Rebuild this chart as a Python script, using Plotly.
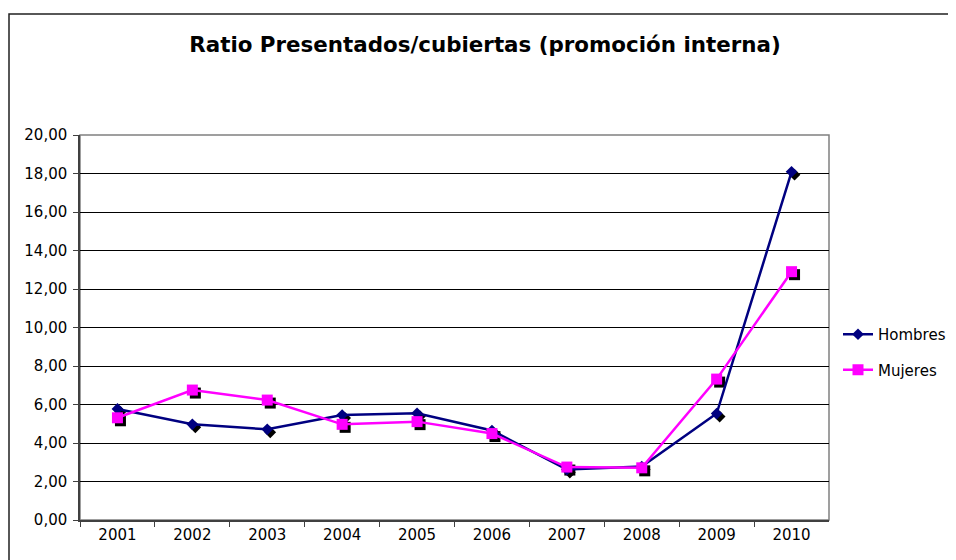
import plotly.graph_objects as go

ANIOS = ["2001", "2002", "2003", "2004", "2005", "2006", "2007", "2008", "2009", "2010"]
HOMBRES = [5.77, 4.97, 4.71, 5.45, 5.54, 4.65, 2.62, 2.78, 5.53, 18.09]
MUJERES = [5.31, 6.75, 6.23, 4.97, 5.11, 4.49, 2.75, 2.71, 7.32, 12.90]

AZUL = "#000080"
MAGENTA = "#FF00FF"
FUENTE = "DejaVu Sans"

# la página añade 8 px de margen al body: todo se mide con ese desfase
W, H = 956, 560
OFF = 8
PAD = 3  # holgura dentro del papel para poder desplazar la sombra
ML, MR, MT, MB = 80 - PAD - OFF, 127 - PAD + OFF, 135 - PAD - OFF, 40 - PAD + OFF
PW, PH = W - ML - MR, H - MT - MB
SOMBRA = 3  # desplazamiento de la sombra de los marcadores (px)

dom_x = [PAD / PW, 1 - PAD / PW]
dom_y = [PAD / PH, 1 - PAD / PH]
dom_xs = [dom_x[0] + SOMBRA / PW, dom_x[1] + SOMBRA / PW]
dom_ys = [dom_y[0] - SOMBRA / PH, dom_y[1] - SOMBRA / PH]

fig = go.Figure()

# sombras negras de los marcadores: subplot xy (se dibuja primero, debajo)
for vals, simb, tam in [(HOMBRES, "diamond", 9), (MUJERES, "square", 11)]:
    fig.add_trace(go.Scatter(x=ANIOS, y=vals, mode="markers", xaxis="x", yaxis="y",
                             marker=dict(symbol=simb, size=tam, color="black"),
                             showlegend=False, hoverinfo="skip"))

# series principales en x2/y2, con ejes visibles
fig.add_trace(go.Scatter(x=ANIOS, y=HOMBRES, name="Hombres", mode="lines+markers",
                         xaxis="x2", yaxis="y2", legendgroup="h",
                         line=dict(color=AZUL, width=2.5),
                         marker=dict(symbol="diamond", size=9, color=AZUL)))
fig.add_trace(go.Scatter(x=ANIOS, y=MUJERES, name="Mujeres", mode="lines+markers",
                         xaxis="x2", yaxis="y2", legendgroup="m",
                         line=dict(color=MAGENTA, width=2.5),
                         marker=dict(symbol="square", size=11, color=MAGENTA)))

fig.update_layout(
    width=W, height=H,
    margin=dict(l=ML, r=MR, t=MT, b=MB, autoexpand=False),
    paper_bgcolor="white", plot_bgcolor="rgba(0,0,0,0)",
    separators=",.",
    font=dict(family=FUENTE, color="black", size=15),
    title=dict(text="<b>Ratio Presentados/cubiertas (promoción interna)</b>",
               x=(485 - OFF) / W, xanchor="center", y=1 - (45 - OFF) / H,
               yanchor="middle", font=dict(size=21.4, family=FUENTE, color="black")),
    xaxis=dict(domain=dom_xs, type="category", range=[-0.5, 9.5], visible=False,
               anchor="y"),
    yaxis=dict(domain=dom_ys, range=[0, 20], visible=False, anchor="x"),
    xaxis2=dict(domain=dom_x, anchor="y2", type="category", range=[-0.5, 9.5],
                tickson="boundaries", ticks="outside", ticklen=5, tickcolor="#404040",
                showline=True, linecolor="#404040", linewidth=1.5, automargin=False,
                showgrid=False, tickfont=dict(size=15, color="black")),
    yaxis2=dict(domain=dom_y, anchor="x2", range=[0, 20], dtick=2, tickformat=".2f",
                ticks="outside", ticklen=5, tickcolor="#404040", ticklabelstandoff=3,
                showline=True, linecolor="#404040", linewidth=1.5, automargin=False,
                showgrid=True, gridcolor="black", gridwidth=1,
                zeroline=False, tickfont=dict(size=15, color="black")),
    legend=dict(xref="container", yref="container",
                x=(838 - OFF) / W, xanchor="left", y=1 - (352 - OFF) / H,
                yanchor="middle", font=dict(size=15), tracegroupgap=13,
                bgcolor="rgba(0,0,0,0)"),
    showlegend=True,
    shapes=[
        # marco gris del área de trazado
        dict(type="rect", xref="x2 domain", yref="y2 domain", x0=0, x1=1, y0=0, y1=1,
             line=dict(color="#808080", width=1.5), layer="below"),
        # borde del gráfico (recortado a la derecha y abajo)
        dict(type="rect", xref="paper", yref="paper",
             x0=(9 - OFF - ML) / PW, x1=(W + 20 - ML) / PW,
             y0=-(40 + MB) / PH, y1=(H - MB - (14 - OFF)) / PH,
             line=dict(color="#202020", width=1.5)),
    ],
)

fig.write_html("out.html")
